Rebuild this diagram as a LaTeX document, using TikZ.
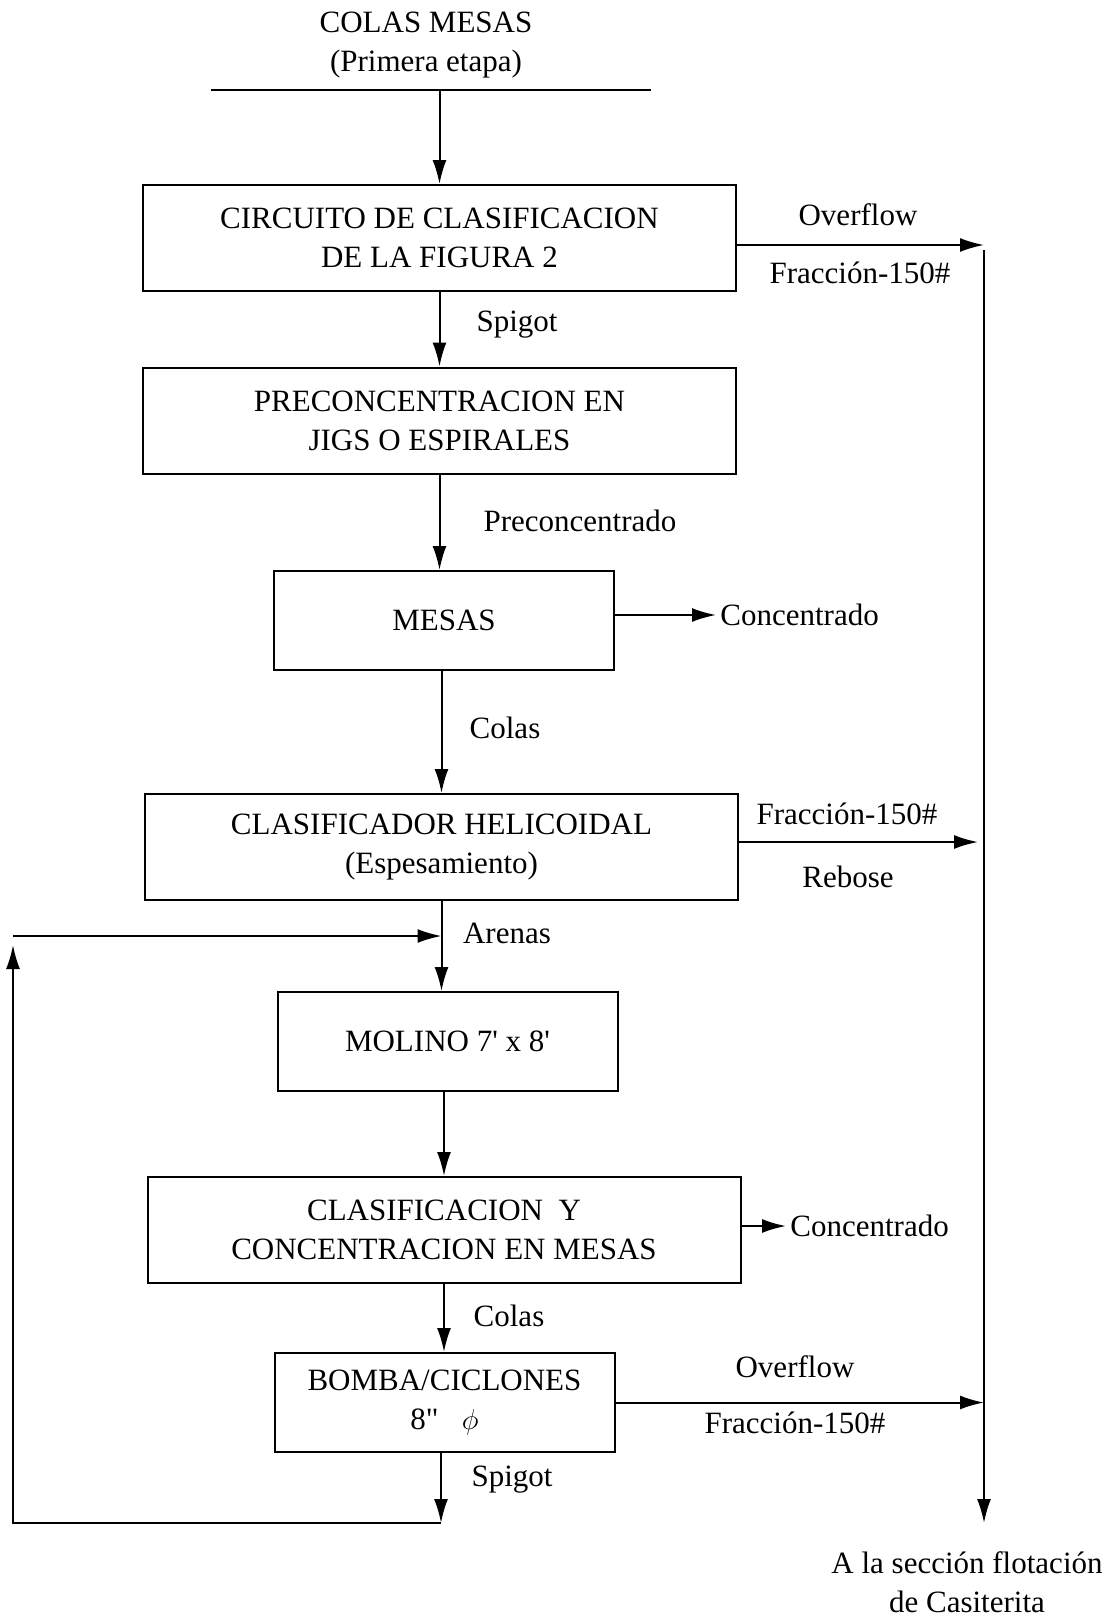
\documentclass[tikz,border=0pt]{standalone}
\usepackage{fontspec}
\setmainfont{Liberation Serif}
\usetikzlibrary{arrows.meta, positioning, calc}

\begin{document}
\begin{tikzpicture}[
    x=0.5pt, y=-0.5pt,
    font=\fontsize{15.5}{19.5}\selectfont,
    wide/.style={
      rectangle, draw, line width=1pt, align=center, inner sep=0pt,
      minimum width=296.5pt, minimum height=53pt
    },
    narrow/.style={
      rectangle, draw, line width=1pt, align=center, inner sep=0pt,
      minimum width=170pt, minimum height=49.5pt
    },
    lbl/.style={align=center, inner sep=2pt},
    arr/.style={-{Latex[length=12pt, width=7pt]}, line width=1pt},
    lin/.style={line width=1pt}
  ]
    \useasboundingbox (0,0) rectangle (1111,1616);

    \node[lbl] (feed) at (426,45) {COLAS MESAS\\(Primera etapa)};
    \coordinate (feedL) at (211,90);
    \coordinate (feedR) at (651,90);

    \node[wide] (circ) at (439.5,238) {CIRCUITO DE CLASIFICACION\\DE LA FIGURA 2};
    \node[wide] (prec) at (439.5,420.5) {PRECONCENTRACION EN\\JIGS O ESPIRALES};
    \node[narrow] (mesas) at (444,620.5) {MESAS};
    \node[wide] (helic) at (441.5,847) {CLASIFICADOR HELICOIDAL\\(Espesamiento)};
    \node[narrow] (molino) at (447.5,1041.5) {MOLINO 7\textquotesingle{} x 8\textquotesingle};
    \node[wide] (clasif) at (444,1230) {CLASIFICACION~~Y\\CONCENTRACION EN MESAS};
    \node[narrow] (bomba) at (444.5,1402.5) {BOMBA/CICLONES\\8\textquotedbl\ \ \ $\phi$};

    % flow labels
    \node[lbl] (over1) at (858,215) {Overflow};
    \node[lbl] (frac1) at (860,273) {Fracción-150\#};
    \node[lbl] (spig1) at (517,325) {Spigot};
    \node[lbl] (preco) at (580,521) {Preconcentrado};
    \node[lbl] (colas1) at (505,728) {Colas};
    \node[lbl] (frac2) at (847,814) {Fracción-150\#};
    \node[lbl] (rebose) at (848,877) {Rebose};
    \node[lbl] (arenas) at (507,933) {Arenas};
    \node[lbl] (colas2) at (509,1316) {Colas};
    \node[lbl] (over2) at (795,1367) {Overflow};
    \node[lbl] (frac3) at (795,1423) {Fracción-150\#};
    \node[lbl] (spig2) at (512,1480) {Spigot};
    \node[lbl, anchor=west] (conc1) at (716,615) {Concentrado};
    \node[lbl, anchor=west] (conc2) at (786,1226) {Concentrado};
    \node[lbl] (dest) at (967,1582) {A la sección flotación\\de Casiterita};

    \coordinate (rtop) at (984,250);
    \coordinate (flot) at (984,1523);
    \coordinate (spig) at (441,1523);
    \coordinate (loopUp) at (13,945);
    \coordinate (loopIn) at (13,936);

    % main line
    \draw[lin] (feedL) -- (feedR);
    \draw[arr] (circ.north |- feedL) -- (circ.north);
    \draw[arr] (circ.south) -- (prec.north);
    \draw[arr] (prec.south) -- (prec.south |- mesas.north);
    \draw[arr] (mesas.south -| helic.north) -- (helic.north);
    \draw[arr] (helic.south) -- (helic.south |- molino.north);
    \draw[arr] (molino.south -| clasif.north) -- (clasif.north);
    \draw[arr] (clasif.south) -- (clasif.south |- bomba.north);
    \draw[arr] (bomba.south -| spig) -- (spig);

    % recirculation
    \draw[arr] (spig) -| (loopUp);
    \draw[arr] (loopIn) -- (loopIn -| helic.south);

    % fines to flotation
    \draw[arr] (rtop) -- (flot);
    \draw[arr] ([yshift=-3.5pt]circ.east) -- ([yshift=-3.5pt]circ.east -| rtop);
    \draw[arr] ([yshift=2.5pt]helic.east) -- ([yshift=2.5pt,xshift=-3pt]helic.east -| rtop);
    \draw[arr] (bomba.east) -- (bomba.east -| rtop);

    % concentrates
    \draw[arr] (mesas.east |- conc1.west) -- (conc1.west);
    \draw[arr] (clasif.east |- conc2.west) -- (conc2.west);
  \end{tikzpicture}
\end{document}
